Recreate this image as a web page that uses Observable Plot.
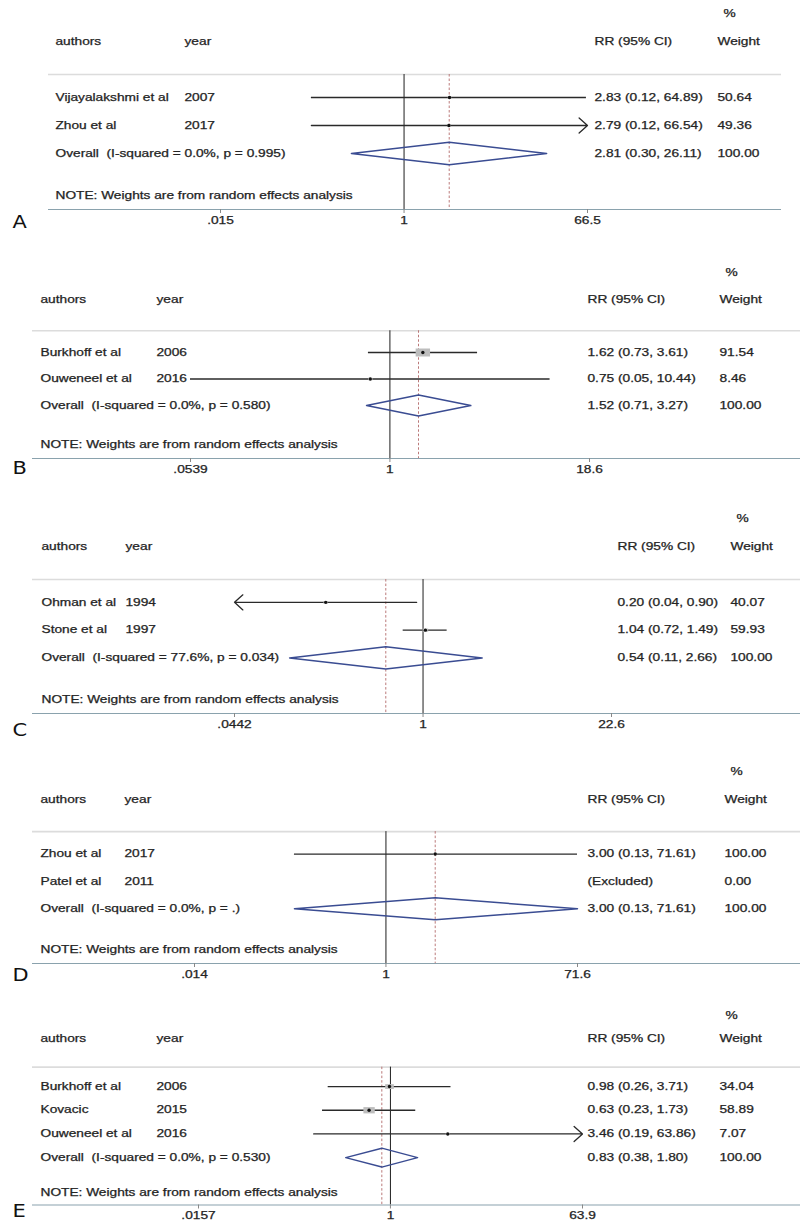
<!DOCTYPE html>
<html><head><meta charset="utf-8">
<script src="https://cdn.jsdelivr.net/npm/d3@7"></script>
<script src="https://cdn.jsdelivr.net/npm/@observablehq/plot@0.6"></script>
<style>
html,body{margin:0;padding:0;background:#fff;}
#chart{width:800px;}
#chart svg{display:block;}
svg text{white-space:pre;}
</style></head>
<body><div id="chart"></div>
<script>
// ---------- Panel A ----------
const studiesA = ["Vijayalakshmi et al", "Zhou et al"];
const yearsA = ["2007", "2017"];
const rrA = [2.83, 2.79];
const lowerA = [0.12, 0.12];
const upperA = [64.89, 66.54];
const weightsA = [50.64, 49.36];
const arrowsA = ["", "right"];
const overallA = [2.81, 0.30, 26.11];
const hetA = "I-squared = 0.0%, p = 0.995";
const ticksA = [0.015, 1, 66.5];
const tickLabelsA = [".015", "1", "66.5"];

// ---------- Panel B ----------
const studiesB = ["Burkhoff et al", "Ouweneel et al"];
const yearsB = ["2006", "2016"];
const rrB = [1.62, 0.75];
const lowerB = [0.73, 0.0539];
const upperB = [3.61, 10.44];
const weightsB = [91.54, 8.46];
const arrowsB = ["", ""];
const overallB = [1.52, 0.71, 3.27];
const hetB = "I-squared = 0.0%, p = 0.580";
const ticksB = [0.0539, 1, 18.6];
const tickLabelsB = [".0539", "1", "18.6"];

// ---------- Panel C ----------
const studiesC = ["Ohman et al", "Stone et al"];
const yearsC = ["1994", "1997"];
const rrC = [0.20, 1.04];
const lowerC = [0.04, 0.72];
const upperC = [0.90, 1.49];
const weightsC = [40.07, 59.93];
const arrowsC = ["left", ""];
const overallC = [0.54, 0.11, 2.66];
const hetC = "I-squared = 77.6%, p = 0.034";
const ticksC = [0.0442, 1, 22.6];
const tickLabelsC = [".0442", "1", "22.6"];

// ---------- Panel D ----------
const studiesD = ["Zhou et al", "Patel et al"];
const yearsD = ["2017", "2011"];
const rrD = [3.00, null];
const lowerD = [0.13, null];
const upperD = [71.61, null];
const weightsD = [100.00, 0.00];
const arrowsD = ["", ""];
const overallD = [3.00, 0.13, 71.61];
const hetD = "I-squared = 0.0%, p = .";
const ticksD = [0.014, 1, 71.6];
const tickLabelsD = [".014", "1", "71.6"];

// ---------- Panel E ----------
const studiesE = ["Burkhoff et al", "Kovacic", "Ouweneel et al"];
const yearsE = ["2006", "2015", "2016"];
const rrE = [0.98, 0.63, 3.46];
const lowerE = [0.26, 0.23, 0.19];
const upperE = [3.71, 1.73, 63.86];
const weightsE = [34.04, 58.89, 7.07];
const arrowsE = ["", "", "right"];
const overallE = [0.83, 0.38, 1.80];
const hetE = "I-squared = 0.0%, p = 0.530";
const ticksE = [0.0157, 1, 63.9];
const tickLabelsE = [".0157", "1", "63.9"];

const NOTE = "NOTE: Weights are from random effects analysis";
const HEADERS = ["authors", "year", "RR (95% CI)", "Weight", "%"];

const panels = [
  {id: "A", studies: studiesA, years: yearsA, rr: rrA, lower: lowerA, upper: upperA, weights: weightsA, arrows: arrowsA, overall: overallA, het: hetA, ticks: ticksA, tickLabels: tickLabelsA},
  {id: "B", studies: studiesB, years: yearsB, rr: rrB, lower: lowerB, upper: upperB, weights: weightsB, arrows: arrowsB, overall: overallB, het: hetB, ticks: ticksB, tickLabels: tickLabelsB},
  {id: "C", studies: studiesC, years: yearsC, rr: rrC, lower: lowerC, upper: upperC, weights: weightsC, arrows: arrowsC, overall: overallC, het: hetC, ticks: ticksC, tickLabels: tickLabelsC},
  {id: "D", studies: studiesD, years: yearsD, rr: rrD, lower: lowerD, upper: upperD, weights: weightsD, arrows: arrowsD, overall: overallD, het: hetD, ticks: ticksD, tickLabels: tickLabelsD},
  {id: "E", studies: studiesE, years: yearsE, rr: rrE, lower: lowerE, upper: upperE, weights: weightsE, arrows: arrowsE, overall: overallE, het: hetE, ticks: ticksE, tickLabels: tickLabelsE}
];

// layout (pixels within each panel's svg)
const layouts = [
  {height: 240, yTop: 13,   yAxis: 209,   xRange: [220, 587], mL: 48, mR: 19, cols: [55, 184, 594, 717], letterY: 222},
  {height: 245, yTop: 32.5, yAxis: 218,   xRange: [190, 589], mL: 32, mR: 0,  cols: [40, 156, 587, 719], letterY: 228},
  {height: 255, yTop: 33.5, yAxis: 228,   xRange: [234, 611], mL: 32, mR: 0,  cols: [41, 125, 617, 730], letterY: 245},
  {height: 245, yTop: 31.5, yAxis: 223,   xRange: [194, 577], mL: 32, mR: 0,  cols: [40, 124, 587, 724], letterY: 235},
  {height: 240, yTop: 30,   yAxis: 219.5, xRange: [198, 582], mL: 32, mR: 0,  cols: [40, 156, 587, 719], letterY: 226}
];

const INK = "#242424";
const STRETCH = 1.37;

// wide gray box symbol (the original figure is horizontally stretched)
const wideBox = {
  draw(ctx, size) {
    const r = Math.sqrt(size / Math.PI);
    const h = r / 2, w = r * 0.9;
    ctx.moveTo(-w, -h); ctx.lineTo(w, -h); ctx.lineTo(w, h); ctx.lineTo(-w, h); ctx.closePath();
  }
};

function forest(p, L) {
  const n = p.studies.length;
  const rows = p.studies.map((a, i) => ({
    row: i + 1, author: a, year: p.years[i], rr: p.rr[i], lo: p.lower[i], hi: p.upper[i],
    weight: p.weights[i], arrow: p.arrows[i]
  }));
  const est = rows.filter(d => d.rr != null);
  const [oRR, oLo, oHi] = p.overall;
  const oRow = n + 1, noteRow = n + 2.5, axisRow = n + 3, sepRow = 0.18;
  const pxPerRow = (L.yAxis - L.yTop) / (axisRow + 2);
  const seO = (Math.log(oHi) - Math.log(oLo)) / 3.92;
  const totalW = 1 / (seO * seO);
  const boxR = d => 3.26 * Math.sqrt(d.weight / 100 * totalW);
  const diamond = [
    {x: oLo, y: oRow}, {x: oRR, y: oRow - 0.4}, {x: oHi, y: oRow}, {x: oRR, y: oRow + 0.4}
  ];
  const tMin = p.ticks[0], tMax = p.ticks[p.ticks.length - 1];
  const tickData = p.ticks.map((v, i) => ({v, label: p.tickLabels[i]}));
  const f2 = v => v.toFixed(2);
  const rrText = (r, lo, hi) => r == null ? "(Excluded)" : `${f2(r)} (${f2(lo)}, ${f2(hi)})`;

  const col = (data, c, extraDx = 0) => Plot.text(data, {
    y: "y", text: "t", frameAnchor: "left", textAnchor: "start", lineAnchor: "middle",
    dx: L.cols[c] - L.mL + extraDx, fontSize: 10, fill: INK, stroke: INK, strokeWidth: 0.25
  });

  const authorCol = [{y: -1, t: HEADERS[0]}, ...rows.map(d => ({y: d.row, t: d.author})),
    {y: oRow, t: `Overall  (${p.het})`}, {y: noteRow, t: NOTE}];
  const yearCol = [{y: -1, t: HEADERS[1]}, ...rows.map(d => ({y: d.row, t: d.year}))];
  const rrCol = [{y: -1, t: HEADERS[2]}, ...rows.map(d => ({y: d.row, t: rrText(d.rr, d.lo, d.hi)})),
    {y: oRow, t: rrText(oRR, oLo, oHi)}];
  const wCol = [{y: -1, t: HEADERS[3]}, ...rows.map(d => ({y: d.row, t: f2(d.weight)})),
    {y: oRow, t: f2(100)}];
  const pctCol = [{y: -2, t: HEADERS[4]}];

  return Plot.plot({
    width: 800, height: L.height,
    marginLeft: L.mL, marginRight: L.mR, marginTop: 0, marginBottom: L.height - L.yAxis,
    style: {fontFamily: "'Liberation Sans', Arial, sans-serif", fontSize: "10px", background: "#fff", color: INK},
    x: {type: "log", domain: [tMin, tMax], range: L.xRange, axis: null},
    y: {type: "linear", domain: [-2, axisRow], range: [L.yTop, L.yAxis], axis: null},
    r: {type: "linear", domain: [0, 50], range: [0, 50]},
    marks: [
      Plot.ruleY([sepRow], {stroke: "#dcdcdc", strokeWidth: 1.6}),
      Plot.ruleX([1], {y1: sepRow, y2: axisRow, stroke: "#1e1e1e", strokeWidth: 1}),
      Plot.ruleX([oRR], {y1: sepRow, y2: axisRow, stroke: "#b36a6a", strokeWidth: 0.9, strokeDasharray: "2.5,2"}),
      Plot.ruleY(est.filter(d => !d.arrow), {y: "row", x1: "lo", x2: "hi", stroke: "#2a2a2a", strokeWidth: 1.3}),
      Plot.arrow(est.filter(d => d.arrow), {
        x1: d => d.arrow === "right" ? d.lo : d.hi,
        x2: d => d.arrow === "right" ? tMax : tMin,
        y1: "row", y2: "row", bend: 0, headAngle: 84, headLength: 13,
        stroke: "#2a2a2a", strokeWidth: 1.3
      }),
      Plot.dot(est, {x: "rr", y: "row", r: boxR, symbol: wideBox, fill: "#bdbdbd"}),
      Plot.dot(est, {x: "rr", y: "row", r: 1.7, fill: "#111"}),
      Plot.line(diamond, {x: "x", y: "y", curve: "linear-closed", stroke: "#3a4c92", strokeWidth: 1.5}),
      // x axis: line, ticks and labels
      Plot.ruleY([axisRow], {stroke: "#8aa2ad", strokeWidth: 1.2}),
      Plot.ruleX(tickData, {x: "v", y1: axisRow, y2: axisRow + 4 / pxPerRow, stroke: "#888", strokeWidth: 1}),
      Plot.text(tickData, {x: "v", y: axisRow, text: "label", dy: 11, lineAnchor: "middle",
        fontSize: 10, fill: INK, stroke: INK, strokeWidth: 0.25}),
      col(authorCol, 0), col(yearCol, 1), col(rrCol, 2), col(wCol, 3), col(pctCol, 3, 6),
      Plot.text([p.id], {
        frameAnchor: "top-left", dx: 12 - L.mL, dy: L.letterY, textAnchor: "start", lineAnchor: "middle",
        fontSize: 17, fontFamily: "'Liberation Sans Narrow','DejaVu Sans Condensed','Liberation Sans',sans-serif",
        fill: "#111", ariaLabel: "panel-letter"
      })
    ]
  });
}

const chart = document.getElementById("chart");
panels.forEach((p, i) => chart.appendChild(forest(p, layouts[i])));

// widen glyphs to match the horizontally stretched original
chart.querySelectorAll("svg text").forEach(t => {
  if (t.closest('g[aria-label="panel-letter"]')) return;
  const w = t.getComputedTextLength();
  if (w > 0) {
    t.setAttribute("textLength", (w * STRETCH).toFixed(1));
    t.setAttribute("lengthAdjust", "spacingAndGlyphs");
  }
});
</script>
</body></html>
